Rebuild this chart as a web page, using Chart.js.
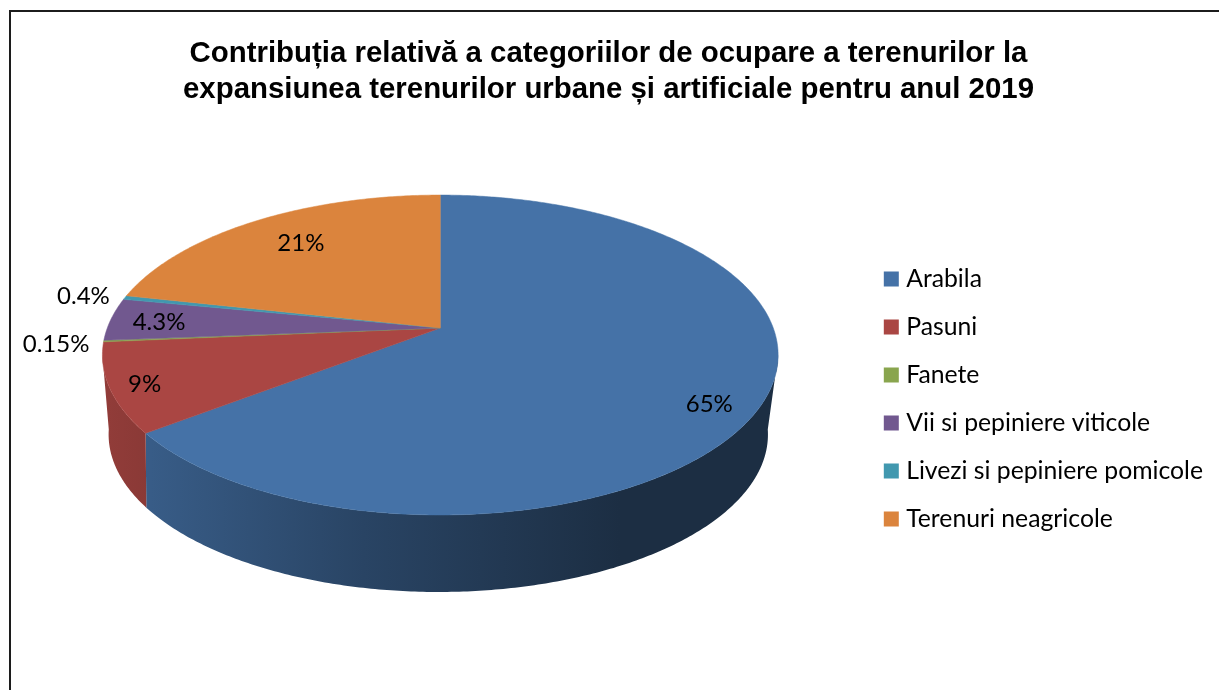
<!DOCTYPE html>
<html>
<head>
<meta charset="utf-8">
<style>
  html, body { margin: 0; background: #fff; overflow: hidden; }
  #frame { position: absolute; left: 9px; top: 10px; width: 1400px; height: 900px; border: 2px solid #1c1c1c; }
  canvas { position: absolute; left: 0; top: 0; }
</style>
</head>
<body>
<div id="frame"></div>
<canvas id="landChart" width="1219" height="690"></canvas>
<script src="https://cdn.jsdelivr.net/npm/chart.js@4/dist/chart.umd.js"></script>
<script>
const titleLines = [
    'Contribuția relativă a categoriilor de ocupare a terenurilor la',
    'expansiunea terenurilor urbane și artificiale pentru anul 2019'
];
const categories = ['Arabila', 'Pasuni', 'Fanete', 'Vii si pepiniere viticole', 'Livezi si pepiniere pomicole', 'Terenuri neagricole'];
const shares = [64.6, 9, 0.15, 4.3, 0.4, 21.55];
const shareLabels = ['65%', '9%', '0.15%', '4.3%', '0.4%', '21%'];
const sliceColors = ['#4572A7', '#AA4643', '#89A54E', '#71588F', '#4198AF', '#DB843D'];

// how the flat pie is tilted
const LIFT = 71;           // pie sits above the middle of the chart area
const SHIFT_X = 5.5;       // and a bit right of it
const TOP_FACE = { k: 0.1688, scaleX: 1, scaleY: 0.4667, dx: 0, dy: 0 };
const LOWER_RIM = { k: 0.2, scaleX: 0.97, scaleY: 0.454, dx: -2, dy: 75 };

// label spot for each slice: radius factor, then a small pixel nudge
const labelRadius = [0.85, 0.9, 1.145, 0.865, 1.16, 0.75];
const labelNudge = [[-2, 14], [0, 3], [2, 1], [4, 2], [7, 3], [3, -2]];

// angle on the pie -> screen point
function project(el, angle, rho, face) {
    const u = Math.cos(angle) * rho;
    const v = Math.sin(angle) * rho;
    const d = 1 - face.k * v;
    return {
        x: el.x + SHIFT_X + face.dx + el.outerRadius * face.scaleX * u / d,
        y: el.y - LIFT + face.dy + el.outerRadius * face.scaleY * v / d
    };
}

function shade(hex, f) {
    const n = parseInt(hex.slice(1), 16);
    return `rgb(${Math.round((n >> 16 & 255) * f)},${Math.round((n >> 8 & 255) * f)},${Math.round((n & 255) * f)})`;
}

class Arc3d extends Chart.ArcElement {
    static id = 'arc3d';
    static defaults = Chart.ArcElement.defaults;
    static defaultRoutes = Chart.ArcElement.defaultRoutes;

    drawWall(ctx) {
        // only the part of the rim that faces the viewer has a wall
        const edge = Math.asin(TOP_FACE.k);
        const from = Math.max(this.startAngle, edge);
        const to = Math.min(this.endAngle, Math.PI - edge);
        if (to <= from) return;

        const r = this.outerRadius;
        const color = this.options.backgroundColor;
        const grad = ctx.createLinearGradient(this.x + SHIFT_X - r, 0, this.x + SHIFT_X + 0.54 * r, 0);
        grad.addColorStop(0, shade(color, 0.85));
        grad.addColorStop(0.5, shade(color, 0.6));
        grad.addColorStop(1, shade(color, 0.4));
        ctx.fillStyle = grad;

        const steps = Math.ceil((to - from) / 0.01);
        ctx.beginPath();
        for (let i = 0; i <= steps; i++) {
            const p = project(this, from + (to - from) * i / steps, 1, TOP_FACE);
            ctx.lineTo(p.x, p.y);
        }
        for (let i = steps; i >= 0; i--) {
            const p = project(this, from + (to - from) * i / steps, 1, LOWER_RIM);
            ctx.lineTo(p.x, p.y);
        }
        ctx.closePath();
        ctx.fill();
    }

    draw(ctx) {
        const apex = project(this, 0, 0, TOP_FACE);
        const steps = Math.max(2, Math.ceil((this.endAngle - this.startAngle) / 0.01));
        ctx.fillStyle = this.options.backgroundColor;
        ctx.strokeStyle = this.options.backgroundColor;
        ctx.lineWidth = 0.5;
        ctx.beginPath();
        ctx.moveTo(apex.x, apex.y);
        for (let i = 0; i <= steps; i++) {
            const p = project(this, this.startAngle + (this.endAngle - this.startAngle) * i / steps, 1, TOP_FACE);
            ctx.lineTo(p.x, p.y);
        }
        ctx.closePath();
        ctx.fill();
        ctx.stroke();
    }
}

class Pie3dController extends Chart.PieController {
    static id = 'pie3d';
    static defaults = { ...Chart.PieController.defaults, dataElementType: 'arc3d' };
    static overrides = Chart.PieController.overrides;

    draw() {
        const ctx = this.chart.ctx;
        this.getMeta().data.forEach(el => el.drawWall(ctx));
        super.draw();
    }
}

Chart.register(Arc3d, Pie3dController);

const sliceLabels = {
    id: 'sliceLabels',
    afterDatasetsDraw(chart) {
        const ctx = chart.ctx;
        ctx.save();
        ctx.font = '24px Lato';
        ctx.fillStyle = '#000';
        ctx.textAlign = 'center';
        ctx.textBaseline = 'middle';
        chart.getDatasetMeta(0).data.forEach((el, i) => {
            const mid = (el.startAngle + el.endAngle) / 2;
            const p = project(el, mid, labelRadius[i], TOP_FACE);
            ctx.fillText(shareLabels[i], p.x + labelNudge[i][0], p.y + labelNudge[i][1]);
        });
        ctx.restore();
    }
};

new Chart(document.getElementById('landChart'), {
    type: 'pie3d',
    data: {
        labels: categories,
        datasets: [{
            data: shares,
            backgroundColor: sliceColors,
            borderWidth: 0,
            radius: 333
        }]
    },
    options: {
        responsive: false,
        animation: false,
        layout: { padding: { left: 4, right: 6 } },
        plugins: {
            title: {
                display: true,
                text: titleLines,
                color: '#000',
                font: { family: 'Liberation Sans', size: 29.4, weight: 'bold', lineHeight: 1.225 },
                padding: { top: 36, bottom: 0 }
            },
            legend: {
                position: 'right',
                fullSize: false,
                labels: {
                    color: '#000',
                    font: { family: 'Lato', size: 24.75 },
                    usePointStyle: true,
                    pointStyle: 'rect',
                    boxWidth: 5,
                    boxHeight: 15,
                    padding: 23.25
                }
            },
            tooltip: { enabled: false }
        }
    },
    plugins: [sliceLabels]
});
</script>
</body>
</html>
